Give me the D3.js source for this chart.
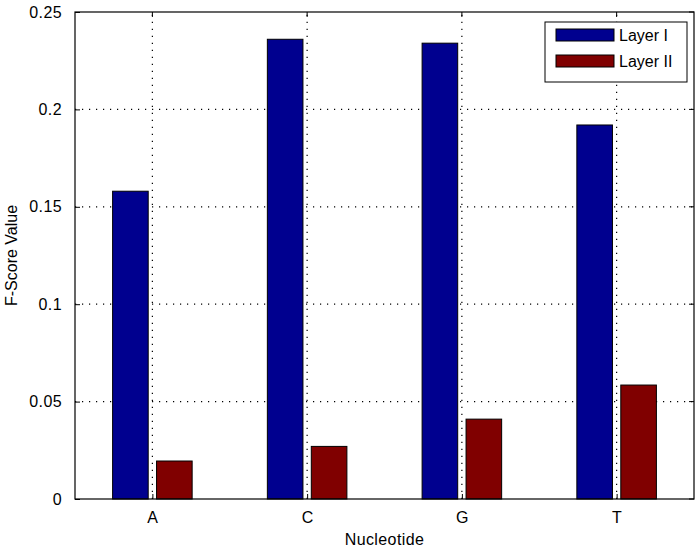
<!DOCTYPE html>
<html>
<head>
<meta charset="utf-8">
<script src="https://cdn.jsdelivr.net/npm/d3@7"></script>
<style>
  body { margin: 0; background: #fff; }
  svg { font-family: 'Liberation Sans', Arial, sans-serif; }
</style>
</head>
<body>
<svg id="chart" width="700" height="550"></svg>
<script>
const categories = ['A', 'C', 'G', 'T']
const layer1 = [0.158, 0.236, 0.234, 0.192]
const layer2 = [0.0195, 0.027, 0.041, 0.0585]
const seriesNames = ['Layer I', 'Layer II']
const seriesColors = ['#00008f', '#800000']
const yTicks = [0, 0.05, 0.1, 0.15, 0.2, 0.25]

const margin = { left: 75, right: 6, top: 12, bottom: 51 }
const width = 700
const height = 550
const fontSize = 16
const svg = d3.select('#chart')

const x = d3.scaleLinear()
    .domain([0.5, 4.5])
    .range([margin.left, width - margin.right])
const y = d3.scaleLinear()
    .domain([0, 0.25])
    .range([height - margin.bottom, margin.top])

const x0 = margin.left, x1 = width - margin.right
const y0 = height - margin.bottom, y1 = margin.top

// grid
const grid = svg.append('g')
grid.selectAll('.gy')
    .data(yTicks.slice(1, -1))
    .join('line')
    .attr('x1', x0).attr('x2', x1)
    .attr('y1', d => y(d)).attr('y2', d => y(d))
    .attr('stroke', '#000').attr('stroke-width', 1.2)
    .attr('stroke-dasharray', '1.2,5.8')
grid.selectAll('.gx')
    .data(categories)
    .join('line')
    .attr('x1', (d, i) => x(i + 1)).attr('x2', (d, i) => x(i + 1))
    .attr('y1', y0).attr('y2', y1)
    .attr('stroke', '#000').attr('stroke-width', 1.2)
    .attr('stroke-dasharray', '1.2,5.8')

// bars
const barW = 0.23
const offset = 0.142
const series = [layer1, layer2]
series.forEach((vals, s) => {
    const off = s === 0 ? -offset : offset
    svg.append('g')
        .selectAll('rect')
        .data(vals)
        .join('rect')
        .attr('x', (d, i) => x(i + 1 + off - barW / 2))
        .attr('width', x(barW) - x(0))
        .attr('y', d => y(d))
        .attr('height', d => y(0) - y(d))
        .attr('fill', seriesColors[s])
        .attr('stroke', '#000')
        .attr('stroke-width', 1)
})

// axes
const xAxis = d3.axisBottom(x)
    .tickValues([1, 2, 3, 4])
    .tickFormat((d) => categories[d - 1])
    .tickSizeInner(-5).tickSizeOuter(0).tickPadding(13)
const gx = svg.append('g')
    .attr('transform', `translate(0, ${y0})`)
    .call(xAxis)
const yAxis = d3.axisLeft(y)
    .tickValues(yTicks)
    .tickFormat(d => d3.format('')(d))
    .tickSizeInner(-5).tickSizeOuter(0).tickPadding(13)
const gy = svg.append('g')
    .attr('transform', `translate(${x0}, 0)`)
    .call(yAxis)
;[gx, gy].forEach(g => {
    g.select('.domain').remove()
    g.selectAll('line').attr('stroke', '#000')
    g.selectAll('text').attr('font-size', fontSize).attr('fill', '#000')
        .attr('letter-spacing', 0.4)
        .attr('font-family', "'Liberation Sans', Arial, sans-serif")
})

// top/right ticks
svg.append('g').selectAll('line')
    .data([1, 2, 3, 4])
    .join('line')
    .attr('x1', d => x(d)).attr('x2', d => x(d))
    .attr('y1', y1).attr('y2', y1 + 5)
    .attr('stroke', '#000')
svg.append('g').selectAll('line')
    .data(yTicks)
    .join('line')
    .attr('x1', x1).attr('x2', x1 - 5)
    .attr('y1', d => y(d)).attr('y2', d => y(d))
    .attr('stroke', '#000')

// box
svg.append('rect')
    .attr('x', x0).attr('y', y1)
    .attr('width', x1 - x0).attr('height', y0 - y1)
    .attr('fill', 'none').attr('stroke', '#000').attr('stroke-width', 1.2)

// labels
svg.append('text')
    .attr('x', (x0 + x1) / 2).attr('y', 545)
    .attr('text-anchor', 'middle')
    .attr('font-size', fontSize)
    .attr('letter-spacing', 0.4)
    .text('Nucleotide')
svg.append('text')
    .attr('transform', `translate(17, ${(y0 + y1) / 2}) rotate(-90)`)
    .attr('text-anchor', 'middle')
    .attr('font-size', fontSize)
    .text('F-Score Value')

// legend
const lg = svg.append('g').attr('transform', 'translate(545, 22)')
lg.append('rect')
    .attr('width', 142).attr('height', 60)
    .attr('fill', '#fff').attr('stroke', '#000')
seriesNames.forEach((name, i) => {
    lg.append('rect')
        .attr('x', 11).attr('y', 7 + i * 26)
        .attr('width', 58).attr('height', 12)
        .attr('fill', seriesColors[i]).attr('stroke', '#000')
    lg.append('text')
        .attr('x', 74).attr('y', 19 + i * 26)
        .attr('font-size', fontSize)
        .text(name)
})
</script>
</body>
</html>
